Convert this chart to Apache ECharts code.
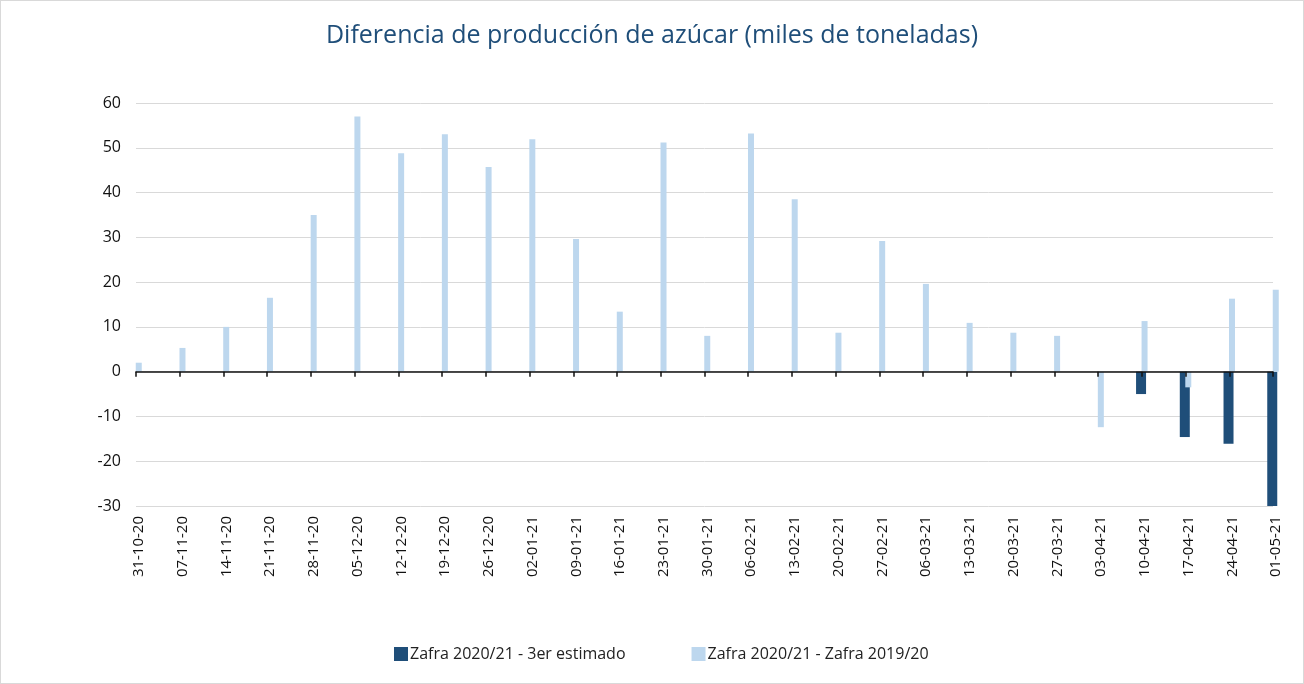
<!DOCTYPE html>
<html>
<head>
<meta charset="utf-8">
<title>Diferencia de producción de azúcar</title>
<script src="https://cdn.jsdelivr.net/npm/echarts@6/dist/echarts.min.js"></script>
<style>
	html, body {
		margin: 0;
		padding: 0;
		background: #ffffff;
	}
	#chart {
		width: 1302px;
		height: 682px;
		border: 1px solid #d9d9d9;
	}
</style>
</head>
<body>
<div id="chart"></div>
<script>
	// semanas (eje de categorías)
	var weeks = ['31-10-20', '07-11-20', '14-11-20', '21-11-20', '28-11-20', '05-12-20', '12-12-20',
		'19-12-20', '26-12-20', '02-01-21', '09-01-21', '16-01-21', '23-01-21', '30-01-21', '06-02-21',
		'13-02-21', '20-02-21', '27-02-21', '06-03-21', '13-03-21', '20-03-21', '27-03-21', '03-04-21',
		'10-04-21', '17-04-21', '24-04-21', '01-05-21'];

	// Zafra 2020/21 - 3er estimado
	var estimado = [null, null, null, null, null, null, null,
		null, null, null, null, null, null, null, null,
		null, null, null, null, null, null, null, null,
		-5.0, -14.6, -16.1, -30];

	// Zafra 2020/21 - Zafra 2019/20
	var zafraDiff = [2.0, 5.3, 10.0, 16.5, 35.0, 57.0, 48.8,
		53.0, 45.7, 51.9, 29.6, 13.4, 51.2, 8.0, 53.2,
		38.5, 8.7, 29.2, 19.6, 10.9, 8.7, 8.0, -12.4,
		11.3, -3.5, 16.3, 18.3];

	var yTicks = {min: -30, max: 60, interval: 10};

	var seriesNames = ['Zafra 2020/21 - 3er estimado', 'Zafra 2020/21 - Zafra 2019/20'];

	var myChart = echarts.init(document.getElementById('chart'));

	var option = {
		animation: false,
		textStyle: {
			fontFamily: 'Open Sans'
		},
		title: {
			text: 'Diferencia de producción de azúcar (miles de toneladas)',
			left: 'center',
			top: 17,
			textStyle: {
				fontSize: 25,
				fontWeight: 'normal',
				color: '#1f4e79',
				fontFamily: 'Open Sans'
			}
		},
		legend: {
			data: seriesNames,
			bottom: 21,
			left: 393,
			padding: 0,
			icon: 'rect',
			itemWidth: 14,
			itemHeight: 14,
			itemGap: 66,
			textStyle: {
				fontSize: 16,
				color: '#222222',
				padding: [0, 0, 0, -3]
			}
		},
		// grid 0: barras; grid 1: sólo las etiquetas de fecha, un poco desplazadas
		grid: [{
			left: 135,
			right: 30,
			top: 102,
			bottom: 177
		}, {
			left: 138,
			right: 27,
			top: 102,
			bottom: 177
		}],
		xAxis: [{
			type: 'category',
			gridIndex: 0,
			data: weeks,
			boundaryGap: false,
			axisLine: {show: false, onZero: false},
			axisTick: {show: false},
			axisLabel: {show: false}
		}, {
			type: 'category',
			gridIndex: 0,
			data: weeks,
			boundaryGap: false,
			position: 'bottom',
			z: 5,
			axisLine: {
				show: true,
				onZero: true,
				lineStyle: {color: '#111111', width: 1.5}
			},
			axisTick: {
				show: true,
				interval: 0,
				length: 5,
				lineStyle: {color: '#111111', width: 1.5}
			},
			axisLabel: {show: false}
		}, {
			type: 'category',
			gridIndex: 1,
			data: weeks,
			boundaryGap: false,
			axisLine: {show: false, onZero: false},
			axisTick: {show: false},
			axisLabel: {
				rotate: 90,
				fontSize: 15,
				color: '#111111',
				margin: 10,
				interval: 0
			}
		}],
		yAxis: [{
			type: 'value',
			gridIndex: 0,
			min: yTicks.min,
			max: yTicks.max,
			interval: yTicks.interval,
			axisLine: {show: false},
			axisTick: {show: false},
			splitLine: {
				lineStyle: {color: '#d9d9d9', width: 1}
			},
			axisLabel: {
				fontSize: 16,
				color: '#111111',
				margin: 15
			}
		}, {
			type: 'value',
			gridIndex: 1,
			min: yTicks.min,
			max: yTicks.max,
			interval: yTicks.interval,
			show: false
		}],
		series: [{
			name: seriesNames[0],
			type: 'bar',
			xAxisIndex: 0,
			yAxisIndex: 0,
			data: estimado,
			barWidth: 10,
			barGap: '-45%',
			clip: false,
			itemStyle: {color: '#1f4e79'}
		}, {
			name: seriesNames[1],
			type: 'bar',
			xAxisIndex: 0,
			yAxisIndex: 0,
			data: zafraDiff,
			barWidth: 6,
			clip: false,
			itemStyle: {color: '#bdd7ee'}
		}]
	};

	myChart.setOption(option, {notMerge: true});
</script>
</body>
</html>
